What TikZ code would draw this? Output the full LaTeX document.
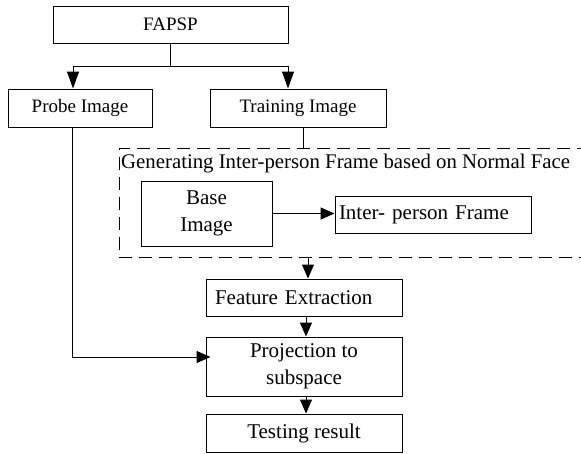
\documentclass[tikz,border=0pt]{standalone}
\usepackage{fontspec}
\setmainfont{Liberation Serif}
\usetikzlibrary{calc, positioning}
\usetikzlibrary{arrows.meta}
\def\bw{196pt}
\def\bh{37pt}
\tikzset{
    block/.style = {
        draw, rectangle, inner sep=0pt, line width=1pt, minimum width=\bw, minimum height=\bh, align=center, font=\fontsize{21}{27}\selectfont
    },
    topblock/.style = {
        block, font=\fontsize{19}{23}\selectfont
    },
    groupbox/.style = {
        draw, rectangle, dashed, dash pattern=on 13pt off 7pt, line width=1pt, inner sep=0pt
    },
}

\begin{document}
\begin{tikzpicture}[x=1pt, y=-1pt]
        \useasboundingbox (0,0) rectangle (581,453);
        \clip (0,0) rectangle (581,453);
        % Place the blocks
        \node[topblock, minimum width=235pt] (fapsp) at (170.5,24.5) {FAPSP};
        \node[topblock, minimum width=144pt, minimum height=38pt] (probe) at (80,108) {Probe Image};
        \node[topblock, minimum width=176pt, minimum height=38pt] (training) at (298,108) {Training Image};
        \node[groupbox, minimum width=481pt, minimum height=109pt] (group) at (359.5,202.5) {};
        \node[anchor=base west, inner sep=0pt, font=\fontsize{20.8}{26}\selectfont] (grouptitle) at (121,168) {Generating Inter-person Frame based on Normal Face};
        \node[block, minimum width=131pt, minimum height=65pt] (base) at (206.5,213.5) {Base\\Image};
        \node[block, text width=188pt, align=left] (inter) at (433,214.5) {Inter- person Frame};
        \node[block, text width=178pt, align=left] (feature) at (304,297.5) {Feature Extraction};
        \node[block, minimum height=59pt] (projection) at (304,366.5) {Projection to\\subspace};
        \node[block, minimum height=38pt] (testing) at (304,433) {Testing result};
        % Draw connections
        \begin{scope}[line width=1pt, >={Triangle[width=12pt,length=14pt]}]
            \draw (fapsp.south) -- ++(0,23) coordinate (split);
            \draw[->, >={Triangle[width=12pt,length=17pt]}] (split) -| ([xshift=-7pt] probe.north);
            \draw[->, >={Triangle[width=12pt,length=17pt]}] (split) -| ([xshift=-10pt] training.north);
            \draw ([xshift=5pt] training.south) -- ([xshift=5pt] training.south |- group.north);
            \draw[->] (base.east) -- (base.east -| inter.west);
            \draw[->] ([xshift=4pt] feature.north |- group.south) -- ([xshift=4pt] feature.north);
            \draw[->] ([xshift=2pt] feature.south) -- ([xshift=2pt] projection.north);
            \draw[->] ([xshift=2pt] projection.south) -- ([xshift=2pt] testing.north);
            \draw[->] ([xshift=-8pt] probe.south) |- ([yshift=9.5pt, xshift=5pt] projection.west);
        \end{scope}
    \end{tikzpicture}
\end{document}
